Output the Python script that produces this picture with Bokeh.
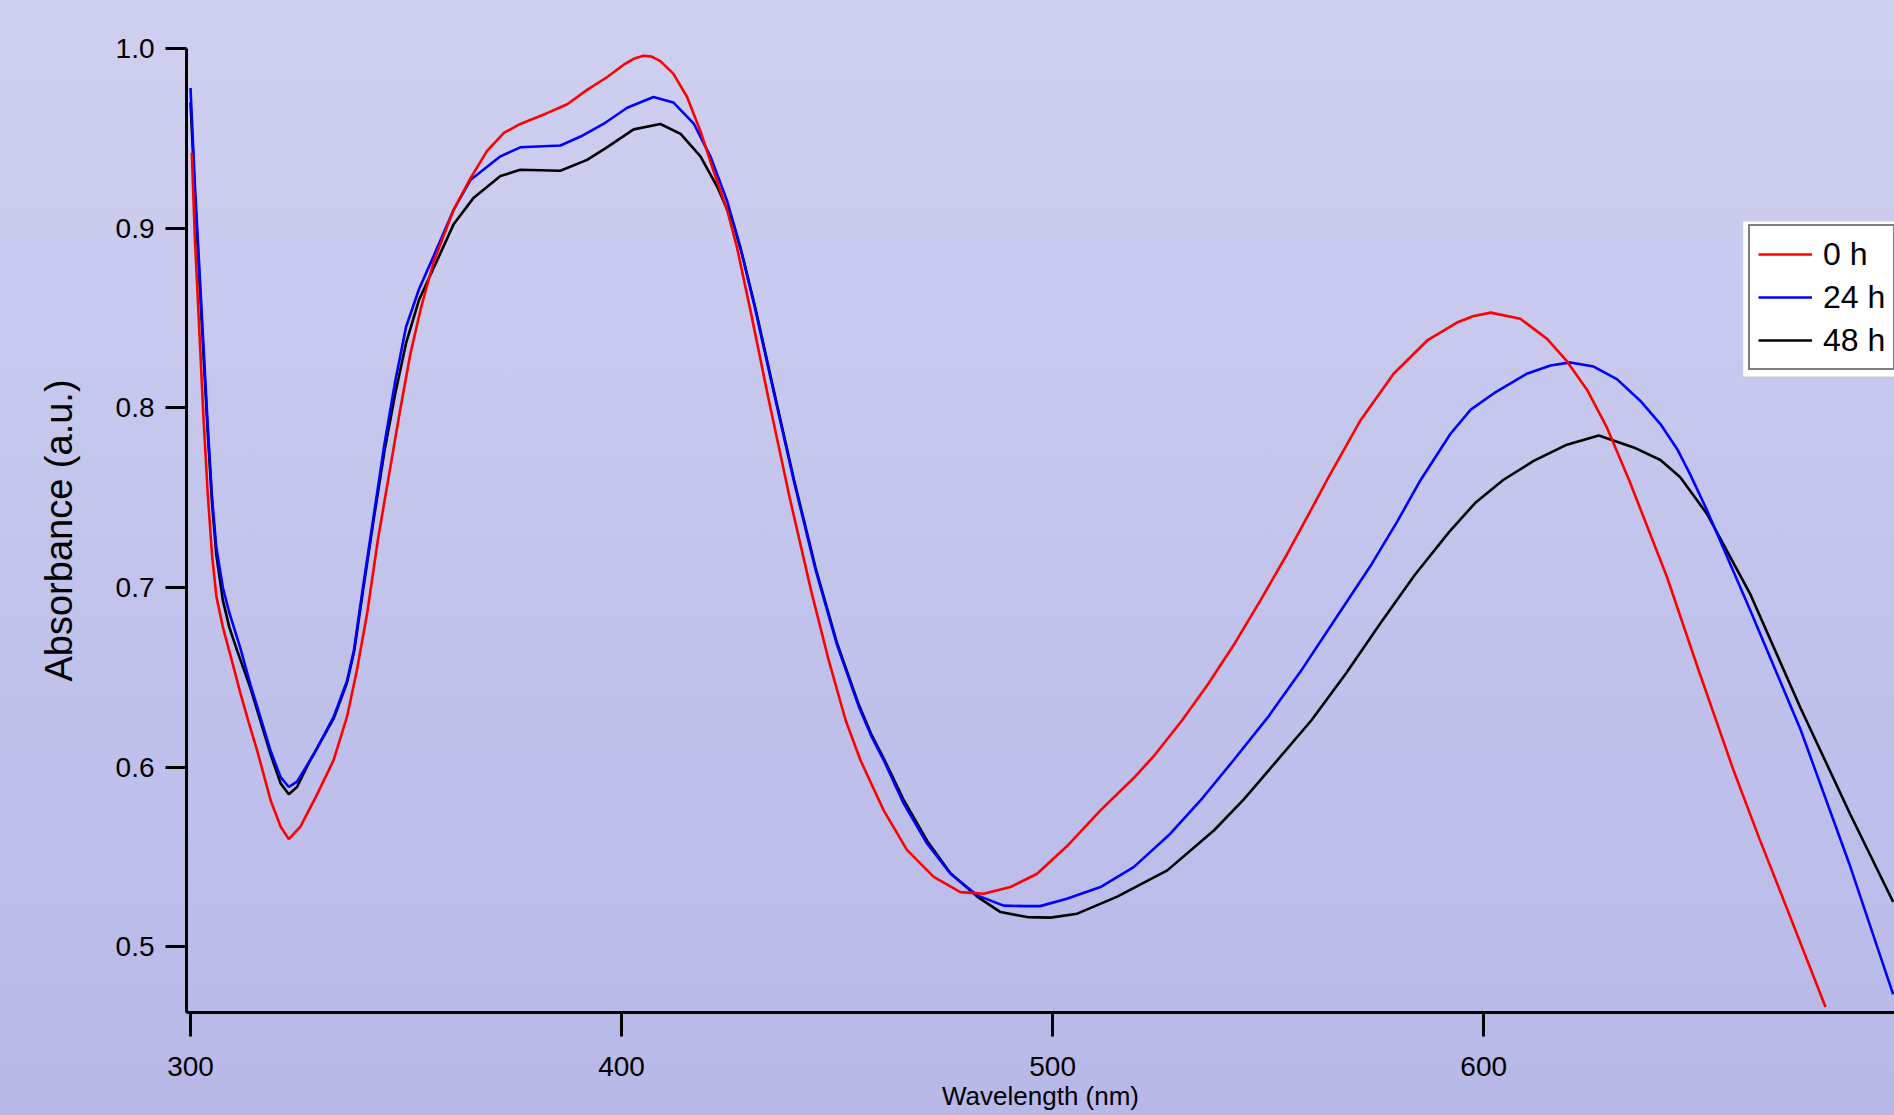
from bokeh.plotting import figure
from bokeh.models import (Range1d, FixedTicker, PrintfTickFormatter, Legend,
                          LegendItem, BoxAnnotation)
from bokeh.embed import file_html
from bokeh.resources import INLINE

# ---------------- data ----------------
series_labels = ["0 h", "24 h", "48 h"]
series_colors = ["#FF0000", "#0000FF", "#000000"]

wl_0h = [300.3, 301, 302, 303, 304, 305, 306, 307.5, 309.3, 311.6, 313.5, 315.5, 318.6,
         320.9, 322.8, 325.5, 329.4, 333.2, 336.3, 338.6, 341, 343.5, 346, 348.5, 351,
         353.5, 356.5, 361, 365, 368.8, 372.7, 376.5, 382.7, 387.4, 392, 396.6, 400.5,
         403, 405.1, 407, 409, 412, 415.2, 418.3, 421.3, 424.5, 426.8, 430, 434, 439,
         444, 448, 452, 455.4, 460.8, 466.2, 472.4, 478.6, 484, 490.2, 496.4, 503.3,
         511.1, 518.8, 523.4, 530, 536, 542, 548, 554, 559, 563.7, 571.4, 579.1, 586.9,
         593.8, 597.5, 601.6, 608.5, 614.7, 619.3, 624, 628.6, 633.7, 642.5, 650, 658,
         664, 669.6, 679.3]
abs_0h = [0.942, 0.895, 0.845, 0.795, 0.752, 0.718, 0.695, 0.678, 0.662, 0.641, 0.625,
          0.609, 0.5815, 0.567, 0.560, 0.567, 0.585, 0.604, 0.628, 0.654, 0.686, 0.727,
          0.762, 0.797, 0.83, 0.856, 0.882, 0.91, 0.928, 0.943, 0.953, 0.958, 0.964,
          0.969, 0.977, 0.984, 0.991, 0.9945, 0.996, 0.9955, 0.993, 0.986, 0.973, 0.954,
          0.932, 0.91, 0.889, 0.853, 0.806, 0.75, 0.698, 0.66, 0.626, 0.604, 0.576,
          0.554, 0.539, 0.5305, 0.5296, 0.5333, 0.5407, 0.556, 0.576, 0.594, 0.606,
          0.626, 0.646, 0.668, 0.692, 0.717, 0.739, 0.76, 0.793, 0.819, 0.8375, 0.8475,
          0.851, 0.853, 0.8496, 0.8384, 0.826, 0.81, 0.789, 0.76, 0.706, 0.653, 0.598,
          0.56, 0.526, 0.4666]

wl_24h = [300, 301, 302, 303, 304, 305, 306, 307.5, 309, 311.6, 313.9, 316.2, 318.6,
          320.9, 322.8, 324.7, 328.6, 333.2, 336.3, 337.9, 340, 342.5, 345, 347.5, 350,
          353, 356.5, 361, 365, 371.9, 376.5, 385.8, 390.5, 395.8, 401.3, 407.4, 412,
          416.8, 420.6, 424.5, 427.6, 431, 435, 440, 445, 450, 455, 458, 460.8, 465.4,
          470.9, 476.3, 482.5, 488.6, 493.3, 497.1, 503.3, 511.1, 518.8, 527.3, 534.3,
          542, 550, 558, 566, 574, 580, 585.3, 592.3, 597, 602.3, 610, 615.5, 620.1,
          625.5, 630.9, 636.3, 641, 644.9, 647.9, 651.8, 661.9, 673.5, 685, 695]
abs_24h = [0.978, 0.925, 0.88, 0.835, 0.79, 0.75, 0.722, 0.70, 0.686, 0.666, 0.646,
           0.628, 0.609, 0.5945, 0.589, 0.592, 0.6072, 0.628, 0.648, 0.665, 0.70, 0.74,
           0.78, 0.815, 0.845, 0.866, 0.885, 0.91, 0.927, 0.94, 0.945, 0.946, 0.951,
           0.958, 0.967, 0.973, 0.970, 0.958, 0.94, 0.915, 0.889, 0.855, 0.812, 0.759,
           0.710, 0.668, 0.634, 0.617, 0.604, 0.580, 0.5574, 0.5407, 0.5287, 0.523,
           0.5227, 0.5227, 0.5268, 0.5333, 0.5444, 0.563, 0.5815, 0.604, 0.628, 0.655,
           0.684, 0.713, 0.737, 0.7596, 0.7856, 0.799, 0.808, 0.819, 0.8236, 0.8253,
           0.823, 0.816, 0.804, 0.791, 0.777, 0.763, 0.743, 0.687, 0.621, 0.545, 0.4736]

wl_48h = [300, 301, 302, 303, 304, 305, 306, 307.5, 309, 310.8, 313.9, 316.2, 318.6,
          320.9, 322.8, 324.7, 327.8, 333.2, 336.3, 338, 340, 342.5, 345, 347.5, 350,
          353, 357.2, 361, 365.7, 371.9, 376.5, 385.8, 392, 396.6, 402.8, 409, 413.7,
          418.3, 422.2, 426, 428, 431, 435, 440, 445, 450, 455, 458, 460.8, 465.4, 470.9,
          476.3, 482.5, 487.9, 494.1, 499.5, 505.7, 515, 526.6, 537.4, 544.3, 552.1, 560,
          568, 576, 584, 592, 598, 604.6, 611.6, 619.3, 626.7, 634.8, 641, 645.6, 651.8,
          661.9, 673.5, 685, 695]
abs_48h = [0.97, 0.92, 0.875, 0.83, 0.786, 0.747, 0.718, 0.693, 0.678, 0.665, 0.644,
           0.626, 0.607, 0.591, 0.585, 0.589, 0.604, 0.627, 0.647, 0.665, 0.698, 0.738,
           0.776, 0.808, 0.836, 0.86, 0.882, 0.902, 0.917, 0.929, 0.9325, 0.932, 0.938,
           0.945, 0.955, 0.958, 0.9525, 0.94, 0.923, 0.902, 0.885, 0.856, 0.813, 0.76,
           0.711, 0.669, 0.635, 0.618, 0.605, 0.582, 0.559, 0.541, 0.528, 0.5194,
           0.5166, 0.5163, 0.5185, 0.528, 0.5426, 0.5648, 0.582, 0.6038, 0.626, 0.652,
           0.68, 0.707, 0.731, 0.747, 0.76, 0.7705, 0.7795, 0.7846, 0.778, 0.771, 0.7614,
           0.741, 0.696, 0.633, 0.574, 0.525]

x_ticks = [300, 400, 500, 600, 700]
y_ticks = [0.5, 0.6, 0.7, 0.8, 0.9, 1.0]
x_title = "Wavelength (nm)"
y_title = "Absorbance (a.u.)"

FONT = "Liberation Sans"

p = figure(width=1894, height=1115, output_backend="svg", toolbar_location=None,
           x_range=Range1d(299.07, 695.3), y_range=Range1d(0.4635, 1.0),
           min_border_left=186, min_border_right=0, min_border_top=48,
           min_border_bottom=103)
p.styles = {"background": "linear-gradient(to bottom, #CFD0EF 0%, #B7B8E8 100%)"}
p.background_fill_color = None
p.border_fill_color = None
p.outline_line_color = None
p.grid.visible = False

for ax in (p.xaxis[0], p.yaxis[0]):
    ax.axis_line_width = 3
    ax.axis_line_color = "black"
    ax.major_tick_line_width = 3
    ax.major_tick_line_color = "black"
    ax.major_tick_in = 0
    ax.minor_tick_line_color = None
    ax.major_label_text_font = FONT
    ax.major_label_text_font_size = "28px"
    ax.major_label_text_color = "black"
    ax.axis_label_text_font = FONT
    ax.axis_label_text_font_style = "normal"
    ax.axis_label_text_color = "black"

p.xaxis.ticker = FixedTicker(ticks=x_ticks)
p.xaxis.formatter = PrintfTickFormatter(format="%d")
p.xaxis.major_tick_out = 24
p.xaxis.major_label_standoff = 20
# the reference cuts this title at the window bottom; here it is kept whole
p.xaxis.axis_label = x_title
p.xaxis.axis_label_text_font_size = "26px"
p.xaxis.axis_label_standoff = 2

p.yaxis.ticker = FixedTicker(ticks=y_ticks)
p.yaxis.formatter = PrintfTickFormatter(format="%.1f")
p.yaxis.major_tick_out = 21
p.yaxis.major_label_standoff = 11
p.yaxis.axis_label = y_title
p.yaxis.axis_label_text_font_size = "38px"
p.yaxis.axis_label_standoff = 33

r_black = p.line(wl_48h, abs_48h, line_color=series_colors[2], line_width=2.6)
r_blue = p.line(wl_24h, abs_24h, line_color=series_colors[1], line_width=2.6)
r_red = p.line(wl_0h, abs_0h, line_color=series_colors[0], line_width=2.6)

# white halo around the legend frame
p.add_layout(BoxAnnotation(left=660.2, right=695.3, bottom=0.8175, top=0.9037,
                           fill_color="white", fill_alpha=1.0, line_color=None))

legend = Legend(items=[LegendItem(label=series_labels[0], renderers=[r_red]),
                       LegendItem(label=series_labels[1], renderers=[r_blue]),
                       LegendItem(label=series_labels[2], renderers=[r_black])],
                location=(1562, 642), orientation="vertical", padding=8, spacing=3,
                glyph_width=54, glyph_height=40, label_height=40, label_standoff=11,
                label_text_font=FONT, label_text_font_size="32px",
                label_text_color="black", border_line_color="black",
                border_line_width=2.5, background_fill_color="white",
                background_fill_alpha=1.0, margin=0)
p.add_layout(legend)

open("out.html", "w").write(file_html(p, INLINE))
